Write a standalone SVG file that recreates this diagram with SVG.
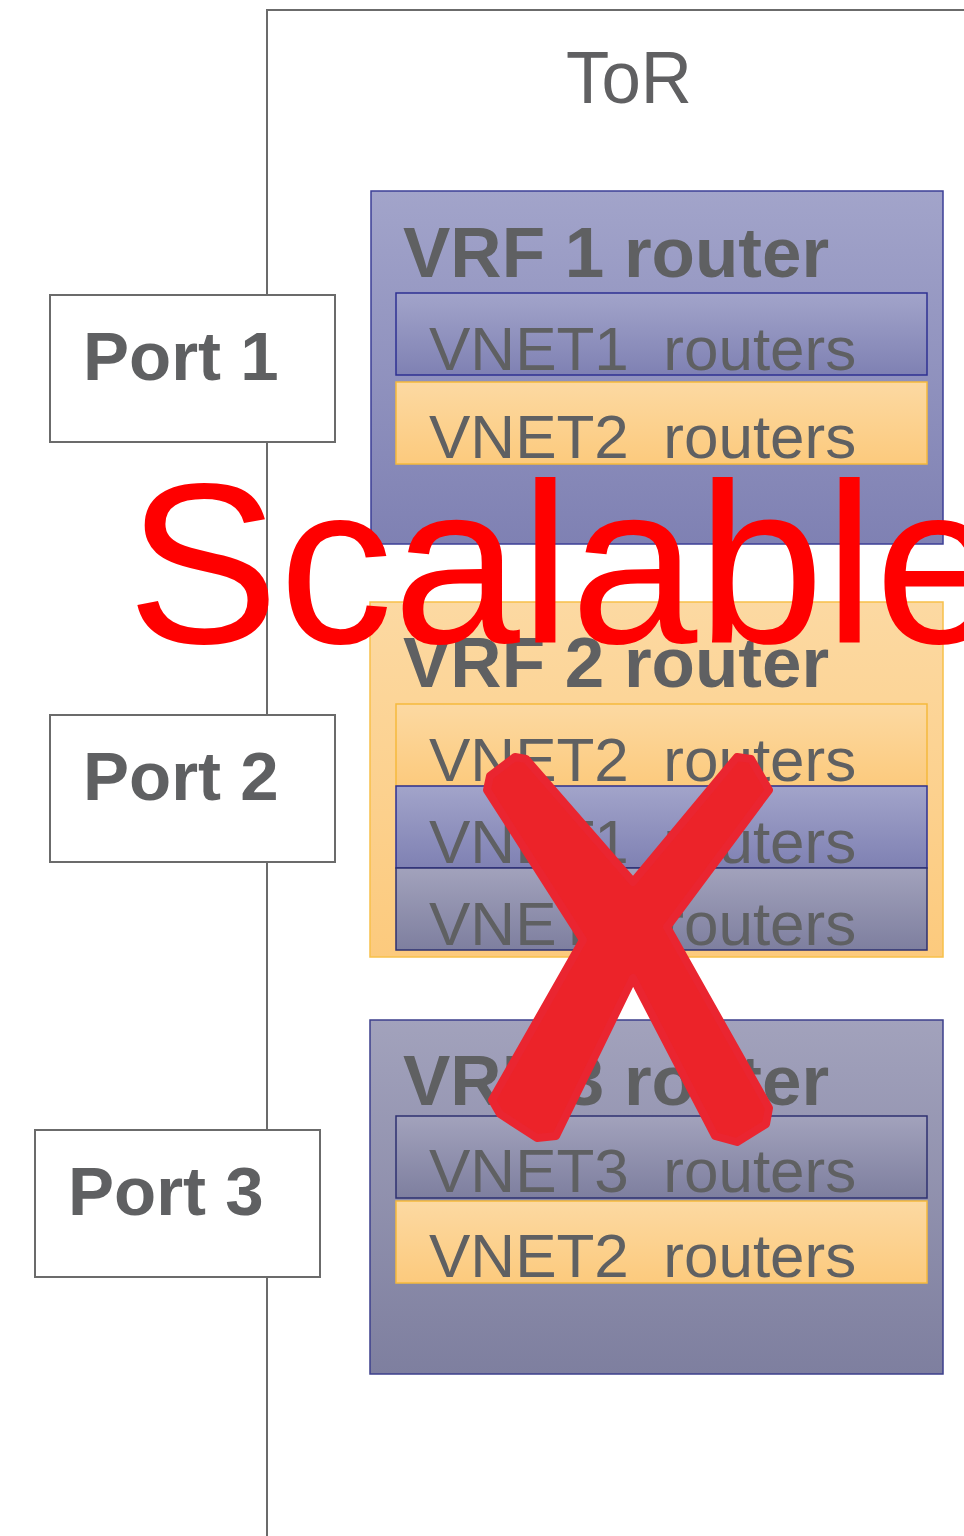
<svg xmlns="http://www.w3.org/2000/svg" width="964" height="1536" viewBox="0 0 964 1536">
  <defs>
    <linearGradient id="gBlue" x1="0" y1="0" x2="0" y2="1">
      <stop offset="0" stop-color="#a2a4ca"/>
      <stop offset="1" stop-color="#7f81b3"/>
    </linearGradient>
    <linearGradient id="gPeach" x1="0" y1="0" x2="0" y2="1">
      <stop offset="0" stop-color="#fcd9a2"/>
      <stop offset="1" stop-color="#fcca7d"/>
    </linearGradient>
    <linearGradient id="gSlate" x1="0" y1="0" x2="0" y2="1">
      <stop offset="0" stop-color="#a2a2bc"/>
      <stop offset="1" stop-color="#7e7f9f"/>
    </linearGradient>
    <style>
      .tor { fill: none; stroke: #6b6b6b; stroke-width: 2; }
      .port { fill: #ffffff; stroke: #6b6b6b; stroke-width: 2; }
      .portText { font-family: "Liberation Sans", Arial, sans-serif; font-weight: bold; font-size: 69px; fill: #5f6062; }
      .torText { font-family: "Liberation Sans", Arial, sans-serif; font-size: 74px; fill: #606062; }
      .vrfTitle { font-family: "Liberation Sans", Arial, sans-serif; font-weight: bold; font-size: 71px; fill: #5f6062; }
      .vnetText { font-family: "Liberation Sans", Arial, sans-serif; font-size: 62px; fill: #5f6062; white-space: pre; }
      .vrfBlue { fill: url(#gBlue); stroke: #3d3f97; stroke-width: 1.5; }
      .vrfPeach { fill: url(#gPeach); stroke: #f7c04a; stroke-width: 1.5; }
      .vrfSlate { fill: url(#gSlate); stroke: #3d3f8c; stroke-width: 1.5; }
      .vnetBlue { fill: url(#gBlue); stroke: #2e3192; stroke-width: 1.5; }
      .vnetPeach { fill: url(#gPeach); stroke: #f5b93c; stroke-width: 1.5; }
      .vnetSlate { fill: url(#gSlate); stroke: #2e3170; stroke-width: 1.5; }
      .stamp { font-family: "Liberation Sans", Arial, sans-serif; font-size: 228px; fill: #ff0000; }
      .cross { fill: #ec2329; stroke: #ea2530; stroke-width: 8; stroke-linejoin: round; }
    </style>
  </defs>

  <rect width="964" height="1536" fill="#ffffff"/>

  <!-- ToR switch outline (extends past the right and bottom edges) -->
  <g id="tor">
    <path class="tor" d="M964,10 H267 V1536"/>
    <text class="torText" x="566" y="103" textLength="126" lengthAdjust="spacingAndGlyphs">ToR</text>
  </g>

  <!-- Ports on the ToR edge -->
  <g id="port1">
    <rect class="port" x="50" y="295" width="285" height="147"/>
    <text class="portText" x="83" y="380">Port 1</text>
  </g>
  <g id="port2">
    <rect class="port" x="50" y="715" width="285" height="147"/>
    <text class="portText" x="83" y="800">Port 2</text>
  </g>
  <g id="port3">
    <rect class="port" x="35" y="1130" width="285" height="147"/>
    <text class="portText" x="68" y="1215">Port 3</text>
  </g>

  <!-- VRF 1 -->
  <g id="vrf1">
    <rect class="vrfBlue" x="371" y="191" width="572" height="353"/>
    <text class="vrfTitle" x="403" y="277">VRF 1 router</text>
    <g id="vrf1-vnet1">
      <rect class="vnetBlue" x="396" y="293" width="531" height="82"/>
      <text class="vnetText" x="429" y="370" xml:space="preserve">VNET1  routers</text>
    </g>
    <g id="vrf1-vnet2">
      <rect class="vnetPeach" x="396" y="382" width="531" height="82"/>
      <text class="vnetText" x="429" y="458" xml:space="preserve">VNET2  routers</text>
    </g>
  </g>

  <!-- VRF 2 -->
  <g id="vrf2">
    <rect class="vrfPeach" x="370" y="602" width="573" height="355"/>
    <text class="vrfTitle" x="403" y="687">VRF 2 router</text>
    <g id="vrf2-vnet2">
      <rect class="vnetPeach" x="396" y="704" width="531" height="82"/>
      <text class="vnetText" x="429" y="781" xml:space="preserve">VNET2  routers</text>
    </g>
    <g id="vrf2-vnet1">
      <rect class="vnetBlue" x="396" y="786" width="531" height="82"/>
      <text class="vnetText" x="429" y="863" xml:space="preserve">VNET1  routers</text>
    </g>
    <g id="vrf2-vnet3">
      <rect class="vnetSlate" x="396" y="868" width="531" height="82"/>
      <text class="vnetText" x="429" y="945" xml:space="preserve">VNET3  routers</text>
    </g>
  </g>

  <!-- VRF 3 -->
  <g id="vrf3">
    <rect class="vrfSlate" x="370" y="1020" width="573" height="354"/>
    <text class="vrfTitle" x="403" y="1105">VRF 3 router</text>
    <g id="vrf3-vnet3">
      <rect class="vnetSlate" x="396" y="1116" width="531" height="82"/>
      <text class="vnetText" x="429" y="1192" xml:space="preserve">VNET3  routers</text>
    </g>
    <g id="vrf3-vnet2">
      <rect class="vnetPeach" x="396" y="1201" width="531" height="82"/>
      <text class="vnetText" x="429" y="1277" xml:space="preserve">VNET2  routers</text>
    </g>
  </g>

  <!-- Overlay: red caption and cross -->
  <g id="scalable">
    <text class="stamp" x="127" y="643">Scalable</text>
  </g>
  <g id="cross">
    <polygon class="cross" points="515,757 526,759 633,882 737,757 751,759 769,790 667,927 769,1108 766,1124 737,1142 715,1136 633,978 556,1136 537,1138 500,1114 492,1100 583,940 487,790 490,776"/>
  </g>
</svg>
